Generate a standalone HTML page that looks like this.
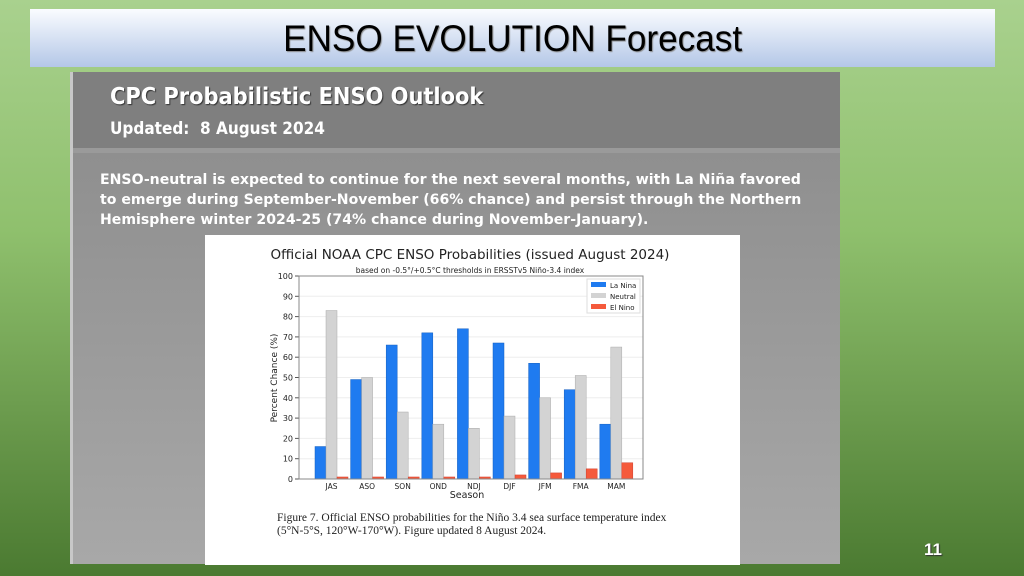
<!DOCTYPE html>
<html><head><meta charset="utf-8"><style>
body{margin:0;width:1024px;height:576px;overflow:hidden;background:linear-gradient(#a9d18e,#8fc06d 40%,#4b7a31);font-family:"Liberation Sans",sans-serif;position:relative}
.t{position:absolute;left:30px;top:9px;width:965px;height:58px;background:linear-gradient(#fafcff,#b4c7e7);text-align:center;font-family:"Liberation Sans",sans-serif;font-size:37px;line-height:60px;color:#000;text-shadow:1px 1px 1px #888}
.t span{display:inline-block;transform:scaleX(0.95)}
.p{position:absolute;left:70px;top:72px;width:770px;height:492px;background:linear-gradient(#8a8a8a,#a8a8a8);border-left:3px solid #c8c8c8;box-sizing:border-box}
.h{position:absolute;left:0;top:0;width:100%;height:76px;background:#7f7f7f;border-bottom:5px solid #9a9a9a}
.h1{position:absolute;left:37px;top:11px;color:#fff;font-size:23.3px;font-weight:bold;font-family:"DejaVu Sans Condensed","DejaVu Sans",sans-serif;text-shadow:1px 1px 1px #333}
.h2{position:absolute;left:37px;top:47px;color:#fff;font-size:17px;font-weight:bold;font-family:"DejaVu Sans Condensed","DejaVu Sans",sans-serif}
.b{position:absolute;left:27px;top:98px;color:#fff;font-size:14.1px;font-weight:bold;line-height:20px;font-family:"DejaVu Sans",sans-serif;white-space:nowrap}
.c{position:absolute;left:132px;top:163px;width:535px;height:330px;background:#fff}
.n{position:absolute;left:924px;top:540px;color:#fff;font-size:17px;font-weight:bold;text-shadow:1px 1px 1px #333}
</style></head><body>
<div class="t"><span>ENSO EVOLUTION Forecast</span></div>
<div class="p">
<div class="h"><div class="h1">CPC Probabilistic ENSO Outlook</div><div class="h2">Updated:&nbsp; 8 August 2024</div></div>
<div class="b">ENSO-neutral is expected to continue for the next several months, with La Niña favored<br>to emerge during September-November (66% chance) and persist through the Northern<br>Hemisphere winter 2024-25 (74% chance during November-January).</div>
<div class="c">
<svg width="535" height="330" viewBox="0 0 535 330" font-family="DejaVu Sans,sans-serif">
<text x="265" y="24" font-size="13.5" text-anchor="middle" fill="#222">Official NOAA CPC ENSO Probabilities (issued August 2024)</text>
<text x="265" y="38" font-size="7.5" text-anchor="middle" fill="#222">based on -0.5°/+0.5°C thresholds in ERSSTv5 Niño-3.4 index</text>
<g id="g"></g>
<rect x="94" y="41" width="344" height="203" fill="none" stroke="#888"/>
<text x="262" y="263" font-size="9.5" text-anchor="middle" fill="#222">Season</text>
<text transform="translate(72,143) rotate(-90)" font-size="9" text-anchor="middle" fill="#222">Percent Chance (%)</text>
<rect x="382" y="44" width="53" height="34" fill="#fff" stroke="#ddd"/>
<rect x="386" y="47" width="15" height="5" fill="#1f7bf0"/><text x="405" y="53" font-size="7" fill="#222">La Nina</text>
<rect x="386" y="58" width="15" height="5" fill="#d3d3d3"/><text x="405" y="64" font-size="7" fill="#222">Neutral</text>
<rect x="386" y="69" width="15" height="5" fill="#f55a3c"/><text x="405" y="75" font-size="7" fill="#222">El Nino</text>
<text x="72" y="286" font-size="11.5" font-family="Liberation Serif,serif" fill="#222">Figure 7. Official ENSO probabilities for the Niño 3.4 sea surface temperature index</text>
<text x="72" y="299" font-size="11.5" font-family="Liberation Serif,serif" fill="#222">(5°N-5°S, 120°W-170°W). Figure updated 8 August 2024.</text>
</svg></div>
</div>
<div class="n">11</div>
<script>
var g=document.getElementById('g'),s='';
var ln=[16,49,66,72,74,67,57,44,27],nu=[83,50,33,27,25,31,40,51,65],en=[1,1,1,1,1,2,3,5,8],lb=['JAS','ASO','SON','OND','NDJ','DJF','JFM','FMA','MAM'];
for(var i=0;i<=10;i++){var y=244-i*20.3;s+='<line x1="94" x2="438" y1="'+y+'" y2="'+y+'" stroke="#eee"/><line x1="90" x2="94" y1="'+y+'" y2="'+y+'" stroke="#555"/><text x="88" y="'+(y+3)+'" font-size="8" text-anchor="end" fill="#222">'+(i*10)+'</text>';}
for(var j=0;j<9;j++){var x=110+j*35.6;
[[ln,'#1f7bf0','#1560c0'],[nu,'#d3d3d3','#aaa'],[en,'#f55a3c','#d04030']].forEach(function(a,k){var h=a[0][j]*2.03;s+='<rect x="'+(x+k*11)+'" y="'+(244-h)+'" width="11" height="'+h+'" fill="'+a[1]+'" stroke="'+a[2]+'" stroke-width="0.5"/>';});
s+='<text x="'+(x+16.5)+'" y="254" font-size="7.5" text-anchor="middle" fill="#222">'+lb[j]+'</text>';}
g.innerHTML=s;
</script>
</body></html>
